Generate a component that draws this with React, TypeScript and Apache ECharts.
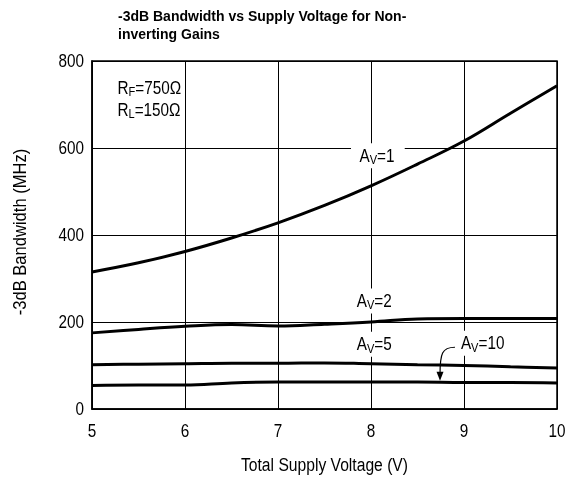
import React, { useEffect, useRef } from "react";
import * as echarts from "echarts";

const xVals = [5, 5.5, 6, 6.5, 7, 7.5, 8, 8.5, 9, 9.5, 10];
const av1 = [315, 336, 362, 393, 428, 468, 513, 563, 616, 680, 743];
const av2 = [175, 183, 190, 194, 191, 195, 200, 207, 208, 208, 208];
const av5 = [102, 103, 104, 105, 105, 106, 104, 102, 100, 97, 94];
const av10 = [54, 55, 55, 60, 62, 62, 62, 62, 61, 61, 60];
const xTicks = [5, 6, 7, 8, 9, 10];
const yTicks = [0, 200, 400, 600, 800];
const xName = "Total Supply Voltage (V)";
const yName = "-3dB Bandwidth (MHz)";
const titleText = "-3dB Bandwidth vs Supply Voltage for Non-\ninverting Gains";

const SANS = "'Liberation Sans', Arial, Helvetica, sans-serif";
const NARROW_SCALE = 0.85;

const pair = (ys: number[]) => xVals.map((x, i) => [x, ys[i]]);

export default function App() {
  const ref = useRef<HTMLDivElement>(null);
  useEffect(() => {
    if (!ref.current) return;
    const chart = echarts.init(ref.current, null, { renderer: "svg" });
    const lineSeries = (name: string, ys: number[]) => ({
      name,
      type: "line",
      data: pair(ys),
      smooth: 0.4,
      showSymbol: false,
      lineStyle: { color: "#000", width: 3 },
    });
    chart.setOption({
      animation: false,
      title: {
        text: titleText,
        left: 113,
        top: 2,
        textStyle: { fontFamily: SANS, fontWeight: "bold", fontSize: 14, color: "#000", lineHeight: 18 },
      },
      grid: {
        left: 92,
        right: 11,
        top: 61,
        bottom: 72,
        show: true,
        borderColor: "#000",
        borderWidth: 1.5,
        backgroundColor: "transparent",
      },
      xAxis: {
        type: "value",
        min: xTicks[0],
        max: xTicks[xTicks.length - 1],
        interval: 1,
        axisLine: { show: true, lineStyle: { color: "#000", width: 1.5 } },
        axisTick: { show: false },
        axisLabel: { show: false },
        splitLine: { show: true, lineStyle: { color: "#000", width: 1 } },
      },
      yAxis: {
        type: "value",
        min: yTicks[0],
        max: yTicks[yTicks.length - 1],
        interval: 200,
        axisLine: { show: true, lineStyle: { color: "#000", width: 1.5 } },
        axisTick: { show: false },
        axisLabel: { show: false },
        splitLine: { show: true, lineStyle: { color: "#000", width: 1 } },
      },
      series: [
        lineSeries("AV=1", av1),
        lineSeries("AV=2", av2),
        lineSeries("AV=5", av5),
        lineSeries("AV=10", av10),
      ],
    });

    const px = (x: number, y: number) => chart.convertToPixel({ gridIndex: 0 }, [x, y]) as number[];
    const narrow = (text: string, x: number, y: number, align: string, extra: any = {}) => ({
      type: "text",
      x,
      y,
      z: 10,
      scaleX: extra.scaleX ?? NARROW_SCALE,
      rotation: extra.rotation ?? 0,
      style: {
        text,
        fontFamily: SANS,
        fontSize: 18,
        fill: "#000",
        align,
        verticalAlign: "middle",
      },
    });
    const origin = px(xTicks[0], yTicks[0]);
    const far = px(xTicks[xTicks.length - 1], yTicks[yTicks.length - 1]);
    const graphics: any[] = [];
    yTicks.forEach((v) => {
      const p = px(xTicks[0], v);
      graphics.push(narrow(String(v), p[0] - 8, p[1], "right"));
    });
    xTicks.forEach((v) => {
      const p = px(v, yTicks[0]);
      graphics.push(narrow(String(v), p[0], p[1] + 22, "center"));
    });
    graphics.push(narrow(xName, (origin[0] + far[0]) / 2, origin[1] + 56, "center", { scaleX: 0.87 }));
    graphics.push(
      narrow(yName, 20, (origin[1] + far[1]) / 2 - 3, "center", { scaleX: 0.92, rotation: Math.PI / 2 })
    );

    const rich = {
      m: { fontFamily: SANS, fontSize: 18, color: "#000" },
      s: { fontFamily: SANS, fontSize: 13, color: "#000", padding: [8, 0, 0, 0] },
    };
    const label = (x: number, y: number, main: string, sub: string, rest: string, pad: number[] | null) => {
      const p = px(x, y);
      return {
        type: "text",
        x: p[0],
        y: p[1],
        z: 10,
        scaleX: NARROW_SCALE,
        style: {
          text: `{m|${main}}{s|${sub}}{m|${rest}}`,
          rich,
          verticalAlign: "middle",
          align: "left",
          backgroundColor: pad ? "#fff" : undefined,
          padding: pad || 0,
        },
      };
    };
    const a0 = px(8.903, 142);
    const a1 = px(8.742, 65);
    graphics.push(
      label(5.274, 738, "R", "F", "=750Ω", null),
      label(5.274, 687, "R", "L", "=150Ω", null),
      label(7.785, 582, "A", "V", "=1", [2, 12, 2, 10]),
      label(7.81, 248, "A", "V", "=2", [2, 4, 2, 4]),
      label(7.81, 149, "A", "V", "=5", [2, 4, 2, 4]),
      label(8.93, 151, "A", "V", "=10", [2, 4, 2, 4]),
      {
        type: "bezierCurve",
        z: 10,
        shape: {
          x1: a0[0], y1: a0[1],
          cpx1: a1[0] + 2, cpy1: a0[1],
          cpx2: a1[0], cpy2: a0[1] + 6,
          x2: a1[0], y2: a1[1] - 6,
        },
        style: { stroke: "#000", lineWidth: 1.2, fill: "none" },
      },
      {
        type: "polygon",
        z: 10,
        shape: { points: [[a1[0] - 3.5, a1[1] - 9], [a1[0] + 3.5, a1[1] - 9], [a1[0], a1[1]]] },
        style: { fill: "#000" },
      }
    );
    chart.setOption({ graphic: graphics });
    return () => chart.dispose();
  }, []);
  return <div ref={ref} style={{ position: "fixed", left: 0, top: 0, width: 568, height: 481 }} />;
}
